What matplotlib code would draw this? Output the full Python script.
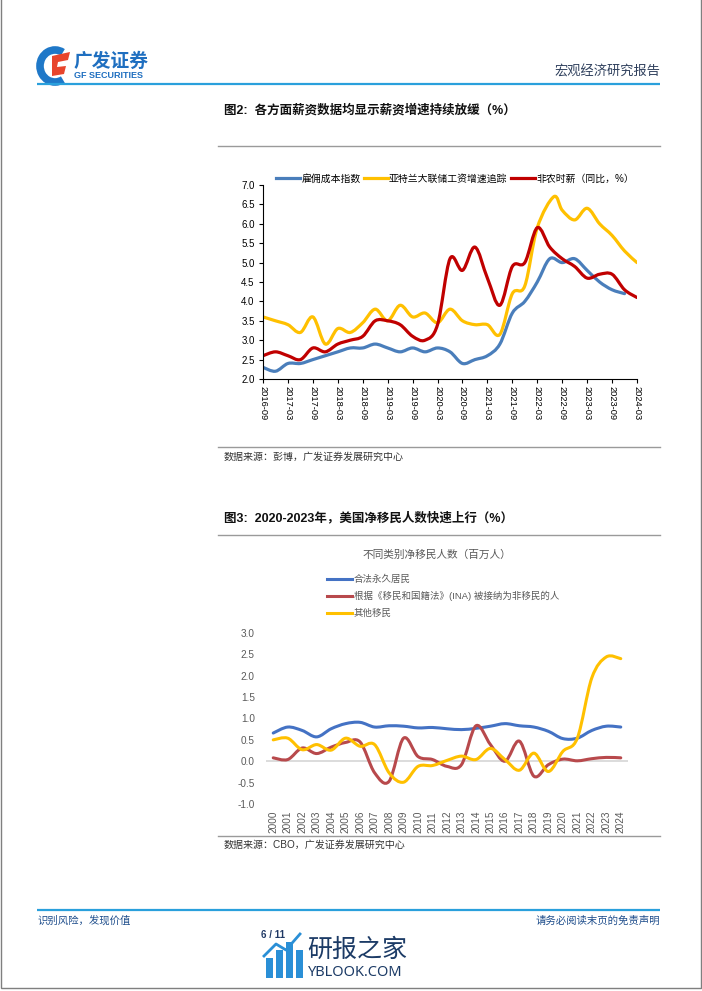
import matplotlib
matplotlib.use('Agg')
import matplotlib.pyplot as plt
from matplotlib.path import Path
from matplotlib.patches import PathPatch, Rectangle, Polygon, Arc
from matplotlib.lines import Line2D
import numpy as np

plt.rcParams['font.family'] = ['Liberation Sans', 'Noto Sans CJK SC']

# ---------------- Chart 1 data (wage growth, %) ----------------
x1_ticks = ['2016-09', '2017-03', '2017-09', '2018-03', '2018-09', '2019-03', '2019-09',
            '2020-03', '2020-09', '2021-03', '2021-09', '2022-03', '2022-09', '2023-03',
            '2023-09', '2024-03']
eci_dates = ['2016-09', '2016-12', '2017-03', '2017-06', '2017-09', '2017-12', '2018-03',
             '2018-06', '2018-09', '2018-12', '2019-03', '2019-06', '2019-09', '2019-12',
             '2020-03', '2020-06', '2020-09', '2020-12', '2021-03', '2021-06', '2021-09',
             '2021-12', '2022-03', '2022-06', '2022-09', '2022-12', '2023-03', '2023-06',
             '2023-09', '2023-12']
eci_vals = [2.3, 2.2, 2.4, 2.4, 2.5, 2.6, 2.7, 2.8, 2.8, 2.9, 2.8, 2.7, 2.8, 2.7,
            2.8, 2.7, 2.4, 2.5, 2.6, 2.9, 3.7, 4.0, 4.5, 5.1, 5.0, 5.1, 4.8, 4.5, 4.3, 4.2]
atl_dates = ['2016-09', '2016-12', '2017-03', '2017-06', '2017-09', '2017-12', '2018-03',
             '2018-06', '2018-09', '2018-12', '2019-03', '2019-06', '2019-09', '2019-12',
             '2020-03', '2020-06', '2020-09', '2020-12', '2021-03', '2021-06', '2021-09',
             '2021-12', '2022-03', '2022-07', '2022-09', '2022-12', '2023-03', '2023-06',
             '2023-09', '2023-12', '2024-03']
atl_vals = [3.6, 3.5, 3.4, 3.2, 3.6, 2.9, 3.3, 3.2, 3.45, 3.8, 3.5, 3.9, 3.6, 3.7,
            3.45, 3.8, 3.5, 3.4, 3.4, 3.15, 4.2, 4.4, 5.9, 6.7, 6.35, 6.1, 6.4, 6.0,
            5.7, 5.3, 5.0]
ahe_dates = ['2016-09', '2016-12', '2017-03', '2017-06', '2017-09', '2017-12', '2018-03',
             '2018-06', '2018-09', '2018-12', '2019-03', '2019-06', '2019-09', '2019-12',
             '2020-03', '2020-06', '2020-09', '2020-12', '2021-03', '2021-06', '2021-09',
             '2021-12', '2022-03', '2022-06', '2022-09', '2022-12', '2023-03', '2023-06',
             '2023-09', '2023-12', '2024-03']
ahe_vals = [2.6, 2.7, 2.6, 2.5, 2.8, 2.7, 2.9, 3.0, 3.1, 3.5, 3.5, 3.4, 3.1, 3.0,
            3.4, 5.1, 4.8, 5.4, 4.6, 3.9, 4.9, 5.0, 5.9, 5.4, 5.1, 4.9, 4.6, 4.7,
            4.7, 4.3, 4.1]
names1 = ['雇佣成本指数', '亚特兰大联储工资增速追踪', '非农时薪（同比，%）']
colors1 = ['#4A7EBB', '#FFC000', '#C00000']

# ---------------- Chart 2 data (net immigration, million) ----------------
years = ['2000', '2001', '2002', '2003', '2004', '2005', '2006', '2007', '2008', '2009',
         '2010', '2011', '2012', '2013', '2014', '2015', '2016', '2017', '2018', '2019',
         '2020', '2021', '2022', '2023', '2024']
lpr_vals = [0.66, 0.80, 0.72, 0.57, 0.76, 0.88, 0.91, 0.80, 0.83, 0.82, 0.78, 0.79, 0.76,
            0.74, 0.77, 0.82, 0.88, 0.83, 0.80, 0.70, 0.53, 0.54, 0.72, 0.82, 0.80]
ina_vals = [0.08, 0.04, 0.31, 0.18, 0.33, 0.44, 0.45, -0.27, -0.47, 0.54, 0.11, 0.04, -0.12,
            -0.08, 0.83, 0.39, 0.00, 0.47, -0.35, -0.08, 0.05, 0.01, 0.06, 0.09, 0.08]
oth_vals = [0.50, 0.54, 0.27, 0.39, 0.26, 0.54, 0.35, 0.39, -0.27, -0.49, -0.12, -0.10, 0.02,
            0.12, 0.04, 0.30, 0.04, -0.21, 0.19, -0.24, 0.23, 0.54, 1.95, 2.44, 2.40]
names2 = ['合法永久居民', '根据《移民和国籍法》(INA) 被接纳为非移民的人', '其他移民']
colors2 = ['#4472C4', '#B8494C', '#FFC000']
y2_ticks = [-1.0, -0.5, 0.0, 0.5, 1.0, 1.5, 2.0, 2.5, 3.0]


def month_index(s):
    y, m = s.split('-')
    return int(y) * 12 + int(m) - (2016 * 12 + 9)


def smooth_path(xs, ys):
    xs = np.asarray(xs, float)
    ys = np.asarray(ys, float)
    n = len(xs)
    verts = [(xs[0], ys[0])]
    codes = [Path.MOVETO]
    for i in range(n - 1):
        p0 = np.array([xs[max(i - 1, 0)], ys[max(i - 1, 0)]])
        p1 = np.array([xs[i], ys[i]])
        p2 = np.array([xs[i + 1], ys[i + 1]])
        p3 = np.array([xs[min(i + 2, n - 1)], ys[min(i + 2, n - 1)]])
        c1 = p1 + (p2 - p0) / 6.0
        c2 = p2 - (p3 - p1) / 6.0
        verts += [tuple(c1), tuple(c2), tuple(p2)]
        codes += [Path.CURVE4] * 3
    return Path(verts, codes)


W, H = 702, 991
fig = plt.figure(figsize=(W / 100, H / 100), dpi=100)
fig.patch.set_facecolor('white')

# ---------------- page decoration layer ----------------
pg = fig.add_axes([0, 0, 1, 1], zorder=-1)
pg.set_xlim(0, W)
pg.set_ylim(H, 0)
pg.axis('off')

pg.add_patch(Rectangle((0.5, -2), W - 2, 990, fill=False, edgecolor='#7f7f7f', lw=1.0))

# logo
pg.add_patch(Arc((55, 66), 30, 32, theta1=60, theta2=300, lw=5.5, color='#1f78c8'))
pg.add_patch(Polygon([(52, 56), (70, 52), (68, 60), (58, 62), (57, 67), (66, 66), (64, 74), (52, 76)],
                     closed=True, facecolor='#e8452c', edgecolor='none'))
pg.text(74, 61, '广发证券', fontsize=13.5, fontweight='bold', color='#1f6fc0',
        family=['Noto Sans CJK SC'], va='center', ha='left')
pg.text(74, 75, 'GF SECURITIES', fontsize=6.5, fontweight='bold', color='#1f6fc0',
        va='center', ha='left')
pg.text(660, 72, '宏观经济研究报告', fontsize=9.5, color='#2e3f5c',
        family=['Noto Sans CJK SC'], va='center', ha='right')
pg.plot([37, 660], [84, 84], color='#2aa0dc', lw=1.6, solid_capstyle='butt')

# figure titles and separators
pg.text(224, 110, '图2:  各方面薪资数据均显示薪资增速持续放缓（%）', fontsize=9, fontweight='bold',
        color='#111111', va='center', ha='left')
pg.plot([218, 660], [146, 146], color='#9a9a9a', lw=1.0)
pg.plot([218, 660], [447, 447], color='#9a9a9a', lw=1.0)
pg.text(224, 457, '数据来源：彭博，广发证券发展研究中心', fontsize=7.2, color='#333333',
        va='center', ha='left')
pg.text(224, 518, '图3:  2020-2023年，美国净移民人数快速上行（%）', fontsize=9, fontweight='bold',
        color='#111111', va='center', ha='left')
pg.plot([218, 660], [535, 535], color='#9a9a9a', lw=1.0)
pg.plot([218, 660], [836, 836], color='#9a9a9a', lw=1.0)
pg.text(224, 845, '数据来源：CBO，广发证券发展研究中心', fontsize=7.2, color='#333333',
        va='center', ha='left')

# footer
pg.plot([37, 660], [910, 910], color='#2aa0dc', lw=1.6, solid_capstyle='butt')
pg.text(37, 921, '识别风险，发现价值', fontsize=7.5, color='#1f4e8c', va='center', ha='left')
pg.text(660, 921, '请务必阅读末页的免责声明', fontsize=7.5, color='#1f4e8c', va='center', ha='right')
pg.text(273, 935, '6 / 11', fontsize=7, fontweight='bold', color='#1f3864', va='center', ha='center')

# watermark
for bx, bt in [(266, 958), (276, 950), (286, 942), (296, 950)]:
    pg.add_patch(Rectangle((bx, bt), 7, 978 - bt, facecolor='#2a8fd6', edgecolor='none'))
pg.plot([264, 276, 286, 300], [956, 944, 950, 934], color='#2a8fd6', lw=2)
pg.text(307, 950, '研报之家', fontsize=18, color='#1c3b66', family=['Noto Sans CJK SC'],
        va='center', ha='left')
pg.text(308, 972, 'YBLOOK.COM', fontsize=10.5, color='#1c3b66', family=['Noto Sans'],
        va='center', ha='left')

# ---------------- Chart 1 ----------------
ax1 = fig.add_axes([263 / W, 1 - 379 / H, 374 / W, 194 / H])
series1 = [(eci_dates, eci_vals), (atl_dates, atl_vals), (ahe_dates, ahe_vals)]
for (d, v), c in zip(series1, colors1):
    xs = [month_index(s) for s in d]
    ax1.add_patch(PathPatch(smooth_path(xs, v), fill=False, edgecolor=c, lw=2.3,
                            capstyle='round', joinstyle='round'))
ax1.set_xlim(0, month_index(x1_ticks[-1]))
ax1.set_ylim(2.0, 7.0)
ax1.set_yticks(np.arange(2.0, 7.01, 0.5))
ax1.set_yticklabels([f'{t:.1f}' for t in np.arange(2.0, 7.01, 0.5)])
ax1.set_xticks([month_index(s) for s in x1_ticks])
ax1.set_xticklabels(x1_ticks, rotation=270)
for s in ['top', 'right']:
    ax1.spines[s].set_visible(False)
for s in ['left', 'bottom']:
    ax1.spines[s].set_color('#000000')
    ax1.spines[s].set_linewidth(0.8)
ax1.tick_params(axis='y', direction='out', length=3, width=0.8, pad=3, labelsize=7, colors='#000000')
ax1.tick_params(axis='x', direction='out', length=3, width=0.8, pad=2, labelsize=6.7, colors='#000000')
ax1.set_facecolor('none')
handles1 = [Line2D([0], [0], color=c, lw=2.3) for c in colors1]
ax1.legend(handles1, names1, ncol=3, loc='upper left', bbox_to_anchor=(0.035, 1.06),
           frameon=False, fontsize=7.1, handlelength=2.4, handletextpad=0.15,
           columnspacing=0.35, borderaxespad=0, borderpad=0)

# ---------------- Chart 2 ----------------
ax2 = fig.add_axes([266 / W, 1 - 804 / H, 362 / W, 171 / H])
xi = np.arange(len(years))
ax2.axhline(0, color='#d9d9d9', lw=1.3, zorder=1)
for v, c in zip([lpr_vals, ina_vals, oth_vals], colors2):
    ax2.add_patch(PathPatch(smooth_path(xi, v), fill=False, edgecolor=c, lw=2.2,
                            capstyle='round', joinstyle='round', zorder=3))
ax2.set_xlim(-0.5, len(years) - 0.5)
ax2.set_ylim(-1.0, 3.0)
ax2.set_yticks(y2_ticks)
ax2.set_yticklabels([f'{t:.1f}' for t in y2_ticks])
ax2.set_xticks(xi)
ax2.set_xticklabels(years, rotation=90)
for s in ax2.spines.values():
    s.set_visible(False)
ax2.tick_params(axis='both', length=0, labelsize=7.2, colors='#595959')
ax2.tick_params(axis='y', pad=8)
ax2.tick_params(axis='x', pad=5)
ax2.set_facecolor('none')

fig.text(437 / W, 1 - 555 / H, '不同类别净移民人数（百万人）', fontsize=7.7, color='#595959',
         ha='center', va='center')
for k, (nm, c) in enumerate(zip(names2, colors2)):
    yy = 1 - (579 + 17 * k) / H
    fig.add_artist(Line2D([327 / W, 352 / W], [yy, yy], color=c, lw=2.2))
    fig.text(354 / W, yy, nm, fontsize=6.8, color='#595959', ha='left', va='center')

fig.savefig('out.png', dpi=100, facecolor='white')
